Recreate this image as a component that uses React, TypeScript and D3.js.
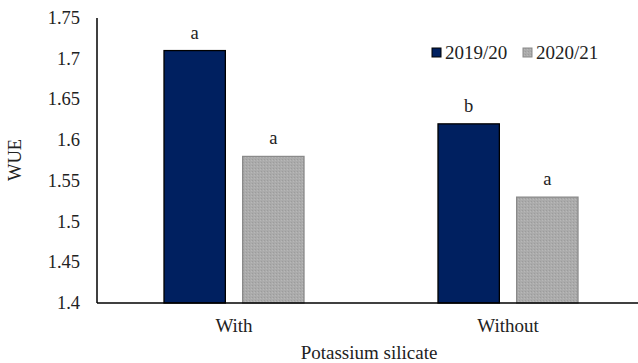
import React from "react";
import * as d3 from "d3";

const categories = ["With", "Without"];
const seriesNames = ["2019/20", "2020/21"];
const values2019 = [1.71, 1.62];
const values2020 = [1.58, 1.53];
const letters2019 = ["a", "b"];
const letters2020 = ["a", "a"];
const yTicks = [1.4, 1.45, 1.5, 1.55, 1.6, 1.65, 1.7, 1.75];

const W = 638;
const H = 363;
const FONT = "'Times New Roman', Times, 'Liberation Serif', 'DejaVu Serif', serif";
const colors = ["#002060", "#a9a9a9"];
const strokes = ["#000000", "#8a8a8a"];

export default function App() {
  const left = 97;
  const top = 18;
  const bottom = 303;
  const y = d3.scaleLinear().domain([1.4, 1.75]).range([bottom, top]);
  const x0 = d3.scaleBand<string>().domain(categories).range([left, 645]).padding(0);
  const groupW = 140;
  const x1 = d3
    .scaleBand<string>()
    .domain(seriesNames)
    .range([0, groupW])
    .paddingInner(0.22);
  const series = [values2019, values2020];
  const letters = [letters2019, letters2020];
  const txt = { fontFamily: FONT } as React.CSSProperties;

  return (
    <svg
      width={W}
      height={H}
      style={{ position: "absolute", left: 0, top: 0, background: "#fff", fontFamily: FONT }}
    >
      <defs>
        <pattern id="grayPat" width="3" height="3" patternUnits="userSpaceOnUse">
          <rect width="3" height="3" fill="#ababab" />
          <rect x="0" y="0" width="1" height="1" fill="#9c9c9c" />
          <rect x="2" y="1" width="1" height="1" fill="#b8b8b8" />
        </pattern>
      </defs>
      {yTicks.map((t) => (
        <text
          key={t}
          x={80}
          y={y(t)}
          textAnchor="end"
          dominantBaseline="central"
          fontSize={18.5}
          fill="#222"
          style={txt}
        >
          {String(t)}
        </text>
      ))}
      <text
        transform={`translate(15,160) rotate(-90)`}
        textAnchor="middle"
        dominantBaseline="central"
        fontSize={18.5}
        fill="#222"
        style={txt}
      >
        WUE
      </text>
      {categories.map((c, ci) => {
        const gx = (x0(c) as number) + (x0.bandwidth() - groupW) / 2;
        return (
          <g key={c}>
            {seriesNames.map((s, si) => {
              const v = series[si][ci];
              const bx = gx + (x1(s) as number);
              const by = y(v);
              return (
                <g key={s}>
                  <rect
                    x={bx}
                    y={by}
                    width={x1.bandwidth()}
                    height={bottom - by}
                    fill={si === 0 ? colors[0] : "url(#grayPat)"}
                    stroke={strokes[si]}
                    strokeWidth={1.3}
                  />
                  <text
                    x={bx + x1.bandwidth() / 2}
                    y={by - 12}
                    textAnchor="middle"
                    fontSize={18.5}
                    fill="#222"
                    style={txt}
                  >
                    {letters[si][ci]}
                  </text>
                </g>
              );
            })}
            <text
              x={(x0(c) as number) + x0.bandwidth() / 2}
              y={325}
              textAnchor="middle"
              dominantBaseline="central"
              fontSize={19}
              fill="#222"
              style={txt}
            >
              {c}
            </text>
          </g>
        );
      })}
      <line x1={left} x2={left} y1={top} y2={bottom} stroke="#000" strokeWidth={1.5} />
      <line x1={left} x2={W} y1={bottom} y2={bottom} stroke="#000" strokeWidth={1.5} />
      <text
        x={369}
        y={352}
        textAnchor="middle"
        dominantBaseline="central"
        fontSize={19}
        fill="#222"
        style={txt}
      >
        Potassium silicate
      </text>
      {seriesNames.map((s, i) => {
        const lx = i === 0 ? 432 : 523;
        return (
          <g key={s}>
            <rect
              x={lx}
              y={48}
              width={9}
              height={9}
              fill={i === 0 ? colors[0] : "url(#grayPat)"}
              stroke={strokes[i]}
              strokeWidth={1}
            />
            <text
              x={lx + 13}
              y={52}
              dominantBaseline="central"
              fontSize={19}
              fill="#222"
              style={txt}
            >
              {s}
            </text>
          </g>
        );
      })}
    </svg>
  );
}
